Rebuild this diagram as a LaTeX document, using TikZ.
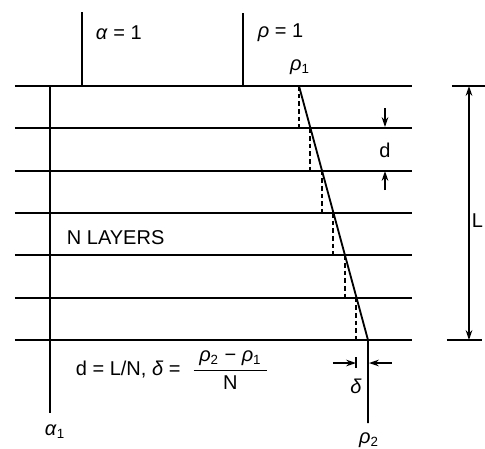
\documentclass[tikz,border=0pt]{standalone}
\usepackage{fontspec}
\setmainfont{Liberation Sans}
\usetikzlibrary{arrows.meta}
\newcommand{\gk}[1]{\textit{#1}}
\tikzset{
  lbl/.style={inner sep=0pt, font=\fontsize{12}{14}\selectfont},
  dim/.style={line width=0.8pt, -{Stealth[length=6pt,width=4pt]}},
  lay/.style={line width=1.1pt}
}
\begin{document}
\begin{tikzpicture}[x=0.6pt,y=-0.6pt, line width=1.1pt]
    \useasboundingbox (0,0) rectangle (485,449);
    % Layers
    \foreach \k in {0,...,6}
      \draw[lay] (15,86+\k*42.33) -- (412,86+\k*42.33);
    % Stepped profile, dashed
    \foreach \k/\x in {0/299,1/310,2/322,3/333,4/345,5/356}
      \draw[line width=1.1pt, dash pattern=on 2.8pt off 1.8pt]
        (\x,86+\k*42.33) -- (\x,128.33+\k*42.33);
    % Profile rho
    \coordinate (top1) at (299,86);
    \coordinate (bot1) at (368,340);
    \coordinate (end2) at (368,423);
    \draw (top1) -- (bot1) -- (end2);
    \node[lbl] (rho2) at (369,440) {\gk{ρ}\textsubscript{2}};
    \node[lbl] (rho1) at (300,67) {\gk{ρ}\textsubscript{1}};
    % alpha
    \coordinate (atop) at (50,86);
    \coordinate (abot) at (50,413);
    \draw (atop) -- (abot);
    \node[lbl] (alpha1) at (55,432) {\gk{α}\textsubscript{1}};
    % Upper half-space
    \draw (82,12) -- (82,86);
    \draw (243,13) -- (243,86);
    \node[lbl, anchor=west] (alphaup) at (95,33) {\gk{α} = 1};
    \node[lbl, anchor=west] (rhoup) at (257,33) {\gk{ρ} = 1};
    \node[lbl, anchor=west] (layers) at (66,238) {N LAYERS};
    % Thickness d
    \draw[dim] (385,108) -- (385,127);
    \draw[dim] (385,190) -- (385,171);
    \node[lbl] (dlab) at (385,150) {d};
    % Total thickness L
    \coordinate (ltop) at (469,86);
    \coordinate (lbot) at (469,340);
    \draw[line width=0.8pt] (452,86) -- (485,86);
    \draw[line width=0.8pt] (447,340) -- (482,340);
    \draw[line width=0.8pt, {Stealth[length=6pt,width=4pt]}-{Stealth[length=6pt,width=4pt]}] (ltop) -- (lbot);
    \node[lbl, anchor=east] (llab) at (484,221) {L};
    % Step delta
    \draw[line width=0.8pt] (356,357) -- (356,368);
    \draw[dim] (333,363) -- (356,363);
    \draw[dim] (392,363) -- (369,363);
    \node[lbl] (dellab) at (356,386) {\gk{δ}};
    % Formula
    \node[lbl, anchor=west] (formula) at (75,370)
      {d = L/N, \gk{δ} =\ \ $\displaystyle\frac{\mbox{\ \gk{ρ}\textsubscript{2} − \gk{ρ}\textsubscript{1}\ }}{\mbox{N}}$};
\end{tikzpicture}
\end{document}
